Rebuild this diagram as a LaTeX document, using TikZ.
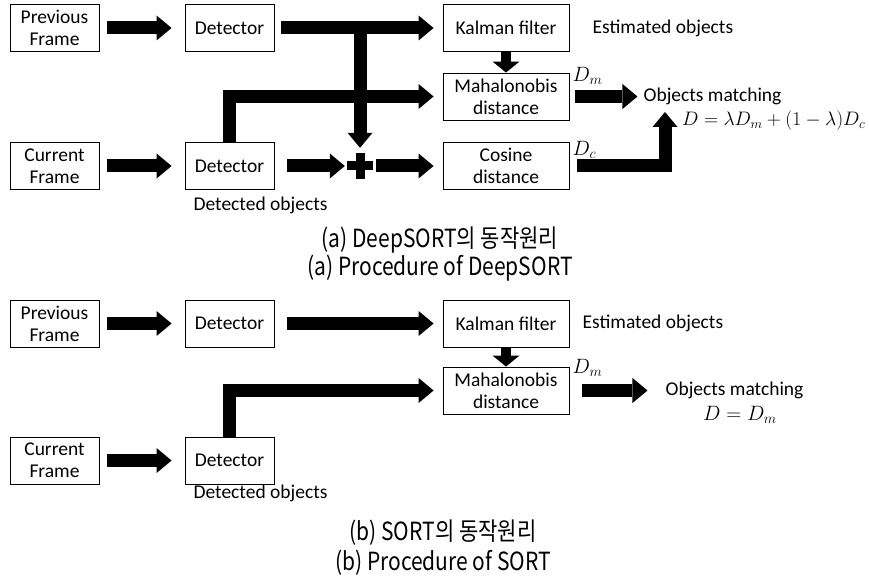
\documentclass[tikz,border=0pt]{standalone}
\usepackage{fontspec}
\usepackage{amsmath}
\setmainfont{Carlito}
\newfontfamily\krfont{Noto Sans CJK KR}
\usetikzlibrary{arrows.meta}
\newcommand\capline[1]{\scalebox{0.84}[1]{#1}}

\tikzset{
  box/.style={draw, line width=0.9pt, minimum width=89pt, minimum height=47pt, align=center},
  wide/.style={box, minimum width=126pt},
  fat/.style={line width=13pt, -{Triangle[width=25pt,length=15pt,line width=0pt]}},
  fatdown/.style={line width=10pt, -{Triangle[width=27pt,length=11pt,line width=0pt]}},
  captxt/.style={font=\krfont\fontsize{25}{28}\selectfont}
}

\begin{document}
\begin{tikzpicture}[x=1pt, y=1pt, font=\fontsize{19.5}{22}\selectfont, every node/.append style={inner sep=1pt}]
  \useasboundingbox (0,0) rectangle (869,-580);
  % (a) DeepSORT
  \node(prevA)[box] at (54.5,-28) {Previous\\Frame};
  \node(detA)[box, node distance=175pt, right of=prevA] {Detector};
  \node(kalA)[wide, node distance=276.5pt, right of=detA] {Kalman filter};
  \node(mahA)[wide, node distance=68.5pt, below of=kalA] {Mahalonobis\\distance};
  \node(cosA)[wide, node distance=69.5pt, below of=mahA] {Cosine\\distance};
  \node(curA)[box, node distance=138pt, below of=prevA] {Current\\Frame};
  \node(detA2)[box, node distance=175pt, right of=curA] {Detector};
  \node(plusA)[minimum size=26pt, inner sep=0pt] at (360,-166) {};
  \node(estA)[anchor=west, xshift=22pt] at (kalA.east) {Estimated objects};
  \node(dtcA)[anchor=center, xshift=31pt, yshift=-15pt] at (detA2.south) {Detected objects};
  \node(dmA)[anchor=west, xshift=2pt, yshift=-3pt] at (mahA.north east) {$D_m$};
  \node(dcA)[anchor=west, xshift=2pt, yshift=-8pt] at (cosA.north east) {$D_c$};
  \node(matchA)[anchor=west, xshift=73pt] at (mahA.east) {Objects matching};
  \node(formA)[anchor=west, inner sep=0pt] at (682,-121) {\resizebox{183pt}{!}{$D = \lambda D_m + (1-\lambda)D_c$}};
  \coordinate (splitA) at (plusA |- detA.east);
  \coordinate (joinA) at (665,-112);
  \draw[fat, shorten <=8pt, shorten >=13pt] (prevA) -- (detA);
  \draw[fat, shorten <=7pt, shorten >=9pt] (detA) -- (kalA);
  \draw[fat, shorten <=8pt, shorten >=13pt] (curA) -- (detA2);
  \draw[fat, shorten >=5pt] (splitA) -- (plusA.north);
  \draw[fat, shorten >=9pt] (detA2.north) |- (mahA.west);
  \draw[fat, shorten <=13pt, shorten >=2pt] (detA2) -- (plusA);
  \draw[fat, shorten <=3pt, shorten >=9pt] (plusA) -- (cosA);
  \draw[line width=9pt] (plusA.north) -- (plusA.south) (plusA.west) -- (plusA.east);
  \draw[fatdown] (kalA) -- (mahA);
  \draw[fat, shorten <=6pt, shorten >=5pt] (mahA) -- (matchA);
  \draw[fat, shorten <=8pt] (cosA.east) -| (joinA);
  \node(capA1)[captxt] at (440,-240) {\capline{(a) DeepSORT의 동작원리}};
  \node(capA2)[captxt] at (440,-268) {\capline{(a) Procedure of DeepSORT}};
  % (b) SORT
  \node(prevB)[box] at (54.5,-323.5) {Previous\\Frame};
  \node(detB)[box, node distance=175pt, right of=prevB] {Detector};
  \node(kalB)[wide, node distance=276.5pt, right of=detB] {Kalman filter};
  \node(mahB)[wide, node distance=67pt, below of=kalB] {Mahalonobis\\distance};
  \node(curB)[box, node distance=137pt, below of=prevB] {Current\\Frame};
  \node(detB2)[box, node distance=175pt, right of=curB] {Detector};
  \node(estB)[anchor=west, xshift=12pt] at (kalB.east) {Estimated objects};
  \node(dtcB)[anchor=center, xshift=31pt, yshift=-9pt] at (detB2.south) {Detected objects};
  \node(dmB)[anchor=west, xshift=2pt, yshift=-1pt] at (mahB.north east) {$D_m$};
  \node(matchB)[anchor=west, xshift=95pt] at (mahB.east) {Objects matching};
  \node(formB) at (740,-415) {$D = D_m$};
  \draw[fat, shorten <=8pt, shorten >=13pt] (prevB) -- (detB);
  \draw[fat, shorten <=13pt, shorten >=9pt] (detB) -- (kalB);
  \draw[fat, shorten <=8pt, shorten >=13pt] (curB) -- (detB2);
  \draw[fat, shorten >=9pt] (detB2.north) |- (mahB.west);
  \draw[fatdown] (kalB) -- (mahB);
  \draw[fat, shorten <=13pt, shorten >=17pt] (mahB) -- (matchB);
  \node(capB1)[captxt] at (443,-533) {\capline{(b) SORT의 동작원리}};
  \node(capB2)[captxt] at (443,-563) {\capline{(b) Procedure of SORT}};
\end{tikzpicture}
\end{document}
